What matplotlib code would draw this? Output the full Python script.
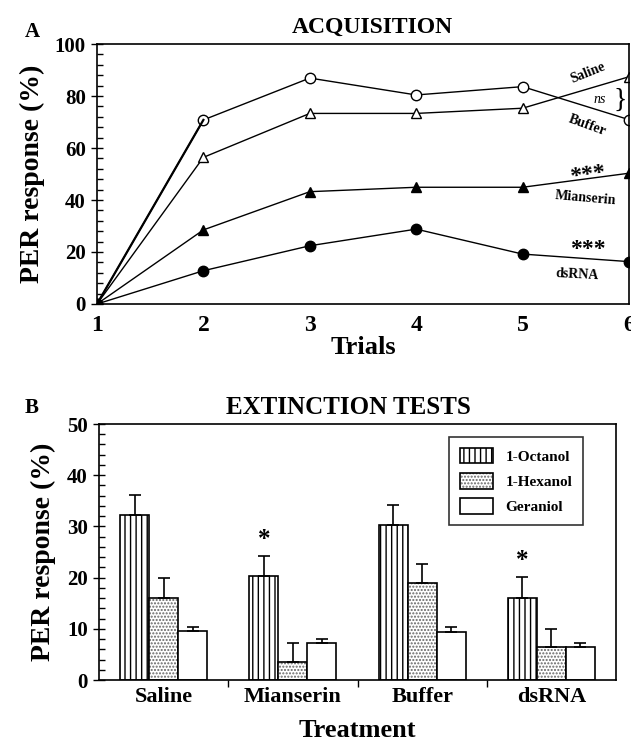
import matplotlib
matplotlib.use('Agg')
import matplotlib.pyplot as plt
from matplotlib.ticker import MultipleLocator
from matplotlib.patches import Patch
from matplotlib.legend_handler import HandlerTuple

plt.rcParams['font.family'] = ['Liberation Serif', 'DejaVu Serif']
plt.rcParams['font.weight'] = 'bold'
plt.rcParams['axes.labelweight'] = 'bold'
plt.rcParams['hatch.linewidth'] = 1.0

# Panel A: acquisition curves
trials = [1, 2, 3, 4, 5, 6]
saline = [0, 70.8, 86.9, 80.4, 83.6, 70.9]
buffer_ = [0, 56.4, 73.3, 73.3, 75.3, 87.4]
mianserin = [0, 28.5, 43.2, 44.9, 44.9, 50.3]
dsrna = [0, 12.8, 22.4, 28.8, 19.2, 16.3]

# Panel B: extinction tests
treatments = ['Saline', 'Mianserin', 'Buffer', 'dsRNA']
odors = ['1-Octanol', '1-Hexanol', 'Geraniol']
octanol = [32.2, 20.3, 30.3, 16.0]
octanol_err = [3.9, 3.9, 3.9, 4.1]
hexanol = [16.0, 3.6, 19.0, 6.4]
hexanol_err = [3.9, 3.7, 3.7, 3.6]
geraniol = [9.6, 7.2, 9.4, 6.4]
geraniol_err = [0.8, 0.8, 0.9, 0.8]
signif = ['', '*', '', '*']

fig = plt.figure(figsize=(6.31, 7.47), dpi=100)

# ---------- Panel A ----------
axA = fig.add_axes([97 / 631, 1 - 304 / 747, 532 / 631, 260 / 747])
lk = dict(color='black', lw=1.0, markersize=7.5, markeredgewidth=1.0)
axA.plot(trials, saline, marker='o', markerfacecolor='white', markeredgecolor='black', **lk)
axA.plot(trials, buffer_, marker='^', markerfacecolor='white', markeredgecolor='black', **lk)
axA.plot(trials, mianserin, marker='^', markerfacecolor='black', markeredgecolor='black', **lk)
axA.plot(trials, dsrna, marker='o', markerfacecolor='black', markeredgecolor='black', **lk)
axA.plot(trials[:2], saline[:2], color='black', lw=1.6)

axA.set_xlim(1, 6)
axA.set_ylim(0, 100)
axA.set_xticks(trials)
axA.yaxis.set_major_locator(MultipleLocator(20))
axA.yaxis.set_minor_locator(MultipleLocator(4))
axA.tick_params(axis='y', which='major', direction='inout', length=8, width=1, labelsize=15, pad=4)
axA.tick_params(axis='y', which='minor', direction='in', length=4, width=1)
axA.tick_params(axis='x', which='major', direction='in', length=0, labelsize=17, pad=8)
for s in axA.spines.values():
    s.set_linewidth(1.2)
axA.set_xlabel('Trials', fontsize=19, labelpad=0)
axA.set_ylabel('PER response (%)', fontsize=20, labelpad=7)

ann = dict(fontsize=10, ha='center', va='center', fontweight='bold')
axA.text(5.61, 88.8, 'Saline', rotation=22, **ann)
axA.text(5.72, 78.5, 'ns', fontsize=10, style='italic', ha='center', va='center', fontweight='normal')
axA.text(5.92, 78.5, '}', fontsize=20, fontweight='normal', ha='center', va='center')
axA.text(5.61, 68.8, 'Buffer', rotation=-20, **ann)
axA.text(5.61, 49.6, '***', rotation=8, fontsize=17, ha='center', va='center')
axA.text(5.59, 40.8, 'Mianserin', rotation=-5, **ann)
axA.text(5.61, 20.8, '***', fontsize=17, ha='center', va='center')
axA.text(5.51, 11.2, 'dsRNA', rotation=-3, **ann)

fig.text(32 / 631, 1 - 32 / 747, 'A', fontsize=15, ha='center', va='center')
fig.text(372 / 631, 1 - 27 / 747, 'ACQUISITION', fontsize=17, ha='center', va='center')

# ---------- Panel B ----------
axB = fig.add_axes([99 / 631, 1 - 680 / 747, 517 / 631, 256 / 747])
x = list(range(len(treatments)))
w = 0.225
ek = dict(ecolor='black', elinewidth=1.2, capsize=4, capthick=1.2)
dot_color = '#666666'
axB.bar([i - w for i in x], octanol, w, color='white', edgecolor='black', hatch='|||', lw=1.2,
        yerr=[[0] * 4, octanol_err], error_kw=ek)
axB.bar(x, hexanol, w, color='white', edgecolor=dot_color, hatch='.....', lw=0)
axB.bar(x, hexanol, w, fill=False, edgecolor='black', lw=1.2,
        yerr=[[0] * 4, hexanol_err], error_kw=ek)
axB.bar([i + w for i in x], geraniol, w, color='white', edgecolor='black', lw=1.2,
        yerr=[[0] * 4, geraniol_err], error_kw=ek)
for i, s in enumerate(signif):
    if s:
        axB.text(i - w, octanol[i] + octanol_err[i] + 3.3, s, fontsize=18, ha='center', va='center')

axB.set_xlim(-0.5, 3.5)
axB.set_ylim(0, 50)
axB.set_xticks([0.5, 1.5, 2.5])
axB.set_xticklabels([])
axB.set_xticks(x, minor=True)
axB.set_xticklabels(treatments, minor=True)
axB.tick_params(axis='x', which='major', direction='out', length=5, width=1)
axB.tick_params(axis='x', which='minor', length=0, labelsize=16, pad=5)
axB.yaxis.set_major_locator(MultipleLocator(10))
axB.yaxis.set_minor_locator(MultipleLocator(2))
axB.tick_params(axis='y', which='major', direction='inout', length=8, width=1, labelsize=15, pad=4)
axB.tick_params(axis='y', which='minor', direction='in', length=4, width=1)
for s in axB.spines.values():
    s.set_linewidth(1.2)
axB.set_ylabel('PER response (%)', fontsize=20, labelpad=8)
axB.set_xlabel('Treatment', fontsize=19, labelpad=9)

h_oct = Patch(facecolor='white', edgecolor='black', hatch='|||', lw=1.2)
h_hex = (Patch(facecolor='white', edgecolor=dot_color, hatch='.....', lw=0),
         Patch(fill=False, edgecolor='black', lw=1.2))
h_ger = Patch(facecolor='white', edgecolor='black', lw=1.2)
leg = axB.legend([h_oct, h_hex, h_ger], odors, handler_map={tuple: HandlerTuple(ndivide=1)},
                 loc='upper right', bbox_to_anchor=(0.936, 0.949), borderaxespad=0,
                 fancybox=False, edgecolor='black', fontsize=11, handlelength=2.2,
                 handleheight=1.2, labelspacing=0.6, borderpad=0.7)
leg.get_frame().set_linewidth(1.2)

fig.text(32 / 631, 1 - 408 / 747, 'B', fontsize=15, ha='center', va='center')
fig.text(348 / 631, 1 - 408 / 747, 'EXTINCTION TESTS', fontsize=18, ha='center', va='center')

fig.savefig('out.png', dpi=100)
